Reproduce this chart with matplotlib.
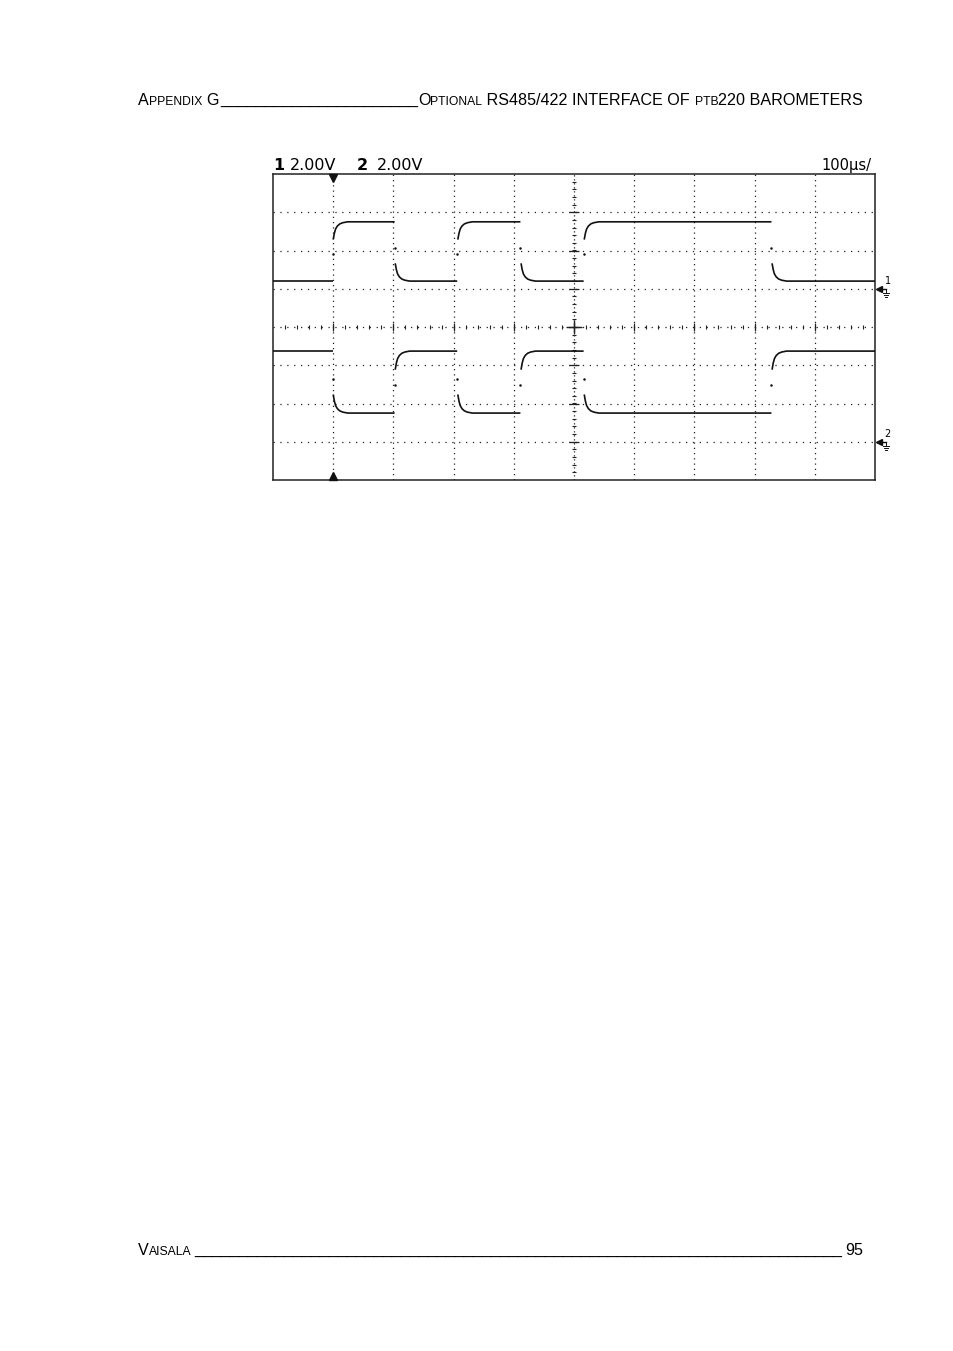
import numpy as np
import matplotlib
matplotlib.use("Agg")
import matplotlib.pyplot as plt

W, H = 954, 1351

# --- scope data (divisions: x 0..10, y -4..4) ---
edge_times = [1.00, 2.03, 3.07, 4.12, 5.17, 8.29]
ch1_low, ch1_high = 1.20, 2.75
ch2_high, ch2_low = -0.63, -2.25
ch1_ground = 1.0
ch2_ground = -3.0
trigger_time = 1.0
# settling shape after each edge
settle_dt = [0.0, 0.02, 0.04, 0.07, 0.11, 0.16, 0.24]
settle_frac = [0.30, 0.19, 0.12, 0.07, 0.035, 0.015, 0.0]
stray_frac = 0.55

header_left = [("A", "big"), ("PPENDIX", "small"), (" ", "big"), ("G", "big")]
header_right = [("O", "big"), ("PTIONAL", "small"), (" RS485/422 INTERFACE OF ", "big"),
                ("PTB", "small"), ("220 BAROMETERS", "big")]
footer_left = [("V", "big"), ("AISALA", "small")]
footer_right = "95"
ch_labels = [("1", "2.00V"), ("2", "2.00V")]
timebase = "100µs/"

SIZES = {"big": 11.6, "small": 8.7}
PAGE_FONT = "Liberation Sans"
INK = "#111111"

fig = plt.figure(figsize=(W / 100, H / 100), dpi=100)
renderer = fig.canvas.get_renderer()


def ftext(x, y, s, **kw):
    return fig.text(x / W, 1 - y / H, s, **kw)


def width(t):
    return t.get_window_extent(renderer).width


def caps_line(pieces, x, y, right=None):
    texts = []
    for s, size in pieces:
        texts.append(ftext(0, y, s, fontsize=SIZES[size], family=PAGE_FONT, va="baseline"))
    total = sum(width(t) for t in texts)
    if right is not None:
        x = right - total
    start = x
    for t in texts:
        t.set_x(x / W)
        x += width(t)
    return start, x


def underscores(x0, x1, y):
    probe = ftext(0, y, "_", fontsize=SIZES["big"], family=PAGE_FONT)
    w = width(probe)
    probe.remove()
    n = int(round((x1 - x0) / w))
    mid = (x0 + x1) / 2
    ftext(mid, y, "_" * n, fontsize=SIZES["big"], family=PAGE_FONT, va="baseline",
          ha="center")


# header
_, lx = caps_line(header_left, 138, 105)
rx, _ = caps_line(header_right, 0, 105, right=863)
underscores(lx + 3, rx - 2, 105)

# footer
_, lx = caps_line(footer_left, 138, 1255)
fr = ftext(863, 1255, footer_right, fontsize=SIZES["big"], family=PAGE_FONT,
           va="baseline", ha="right")
underscores(lx + 4, 863 - width(fr) - 3, 1255)

# --- oscilloscope screen ---
ax = fig.add_axes([273 / W, 1 - 480 / H, 602 / W, 306 / H])
ax.set_xlim(0, 10)
ax.set_ylim(-4, 4)
ax.set_xticks([])
ax.set_yticks([])
for sp in ax.spines.values():
    sp.set_linewidth(1.1)
    sp.set_color("#222222")

grid_kw = dict(color="#222222", lw=0.9, zorder=1)
for gx in range(1, 10):
    if gx != 5:
        ax.axvline(gx, ls=(0, (1, 3.2)), **grid_kw)
for gy in range(-3, 4):
    if gy != 0:
        ax.axhline(gy, ls=(0, (1, 4.5)), **grid_kw)

# centre axes with minor ticks
ax.axhline(0, ls=(0, (1, 4.5)), **grid_kw)
ax.axvline(5, ls=(0, (1, 2.2)), **grid_kw)
minor_x = np.arange(0.2, 10, 0.2)
ax.vlines(minor_x, -0.045, 0.045, color="#222222", lw=0.8)
ax.vlines(np.arange(1, 10), -0.11, 0.11, color="#222222", lw=0.9)
minor_y = np.arange(-3.8, 4, 0.2)
ax.hlines(minor_y, 5 - 0.04, 5 + 0.04, color="#222222", lw=0.8)
ax.hlines(np.arange(-3, 4), 5 - 0.09, 5 + 0.09, color="#222222", lw=0.9)
ax.hlines(0, 5 - 0.13, 5 + 0.13, color="#222222", lw=1.0)
ax.vlines(5, -0.18, 0.18, color="#222222", lw=1.0)


def draw_channel(first, second):
    bounds = [0.0] + edge_times + [10.0]
    levels = [first if i % 2 == 0 else second for i in range(len(bounds) - 1)]
    for i in range(len(bounds) - 1):
        a, b, lv = bounds[i], bounds[i + 1], levels[i]
        if i == 0:
            xs, ys = [a], [lv]
        else:
            prev = levels[i - 1]
            xs = [a + d for d in settle_dt]
            ys = [lv + (prev - lv) * f for f in settle_frac]
            ax.plot([a - 0.01], [lv + (prev - lv) * stray_frac], ".", ms=1.6,
                    color=INK, zorder=3)
        xs.append(b - 0.01 if i < len(bounds) - 2 else b)
        ys.append(lv)
        ax.plot(xs, ys, color=INK, lw=1.2, zorder=3, solid_capstyle="butt")


draw_channel(ch1_low, ch1_high)
draw_channel(ch2_high, ch2_low)

# trigger markers
ax.plot([trigger_time], [4 - 4 / 38.25], marker="v", ms=6, color=INK,
        clip_on=False, zorder=4)
ax.plot([trigger_time], [-4 + 4 / 38.25], marker="^", ms=6, color=INK,
        clip_on=False, zorder=4)


def px(dx, dy, gy):
    return 10 + dx / 60.2, gy - dy / 38.25


# ground reference markers at right
for gy, lab in [(ch1_ground, "1"), (ch2_ground, "2")]:
    x0, y0 = px(2, 0, gy)
    x1, _ = px(11, 0, gy)
    ax.plot([x0, x1], [y0, y0], color=INK, lw=1.0, clip_on=False)
    ax.plot([x0 + 1.5 / 60.2], [y0], marker="<", ms=4.5, color=INK,
            clip_on=False)
    gx, gtop = px(11, 0, gy)
    ax.plot([gx, gx], [gtop, px(0, 4, gy)[1]], color=INK, lw=0.7, clip_on=False)
    for k, half in enumerate([3, 2, 1]):
        yy = px(0, 4 + 2 * k, gy)[1]
        ax.plot([gx - half / 60.2, gx + half / 60.2], [yy, yy], color=INK,
                lw=0.7, clip_on=False)
    lx_, ly_ = px(9.5, -4.5, gy)
    ax.text(lx_, ly_, lab, fontsize=7, family="DejaVu Sans", va="baseline",
            ha="left", clip_on=False)

# channel scale labels above the screen
lab_kw = dict(fontsize=11.5, family="DejaVu Sans", va="baseline")
ftext(273, 170, ch_labels[0][0], weight="bold", **lab_kw)
ftext(290, 170, ch_labels[0][1], **lab_kw)
ftext(357, 170, ch_labels[1][0], weight="bold", **lab_kw)
ftext(377, 170, ch_labels[1][1], **lab_kw)
ftext(871, 170, timebase, fontsize=10.5, family="DejaVu Sans", va="baseline", ha="right")

fig.savefig("out.png", dpi=100, facecolor="white")
